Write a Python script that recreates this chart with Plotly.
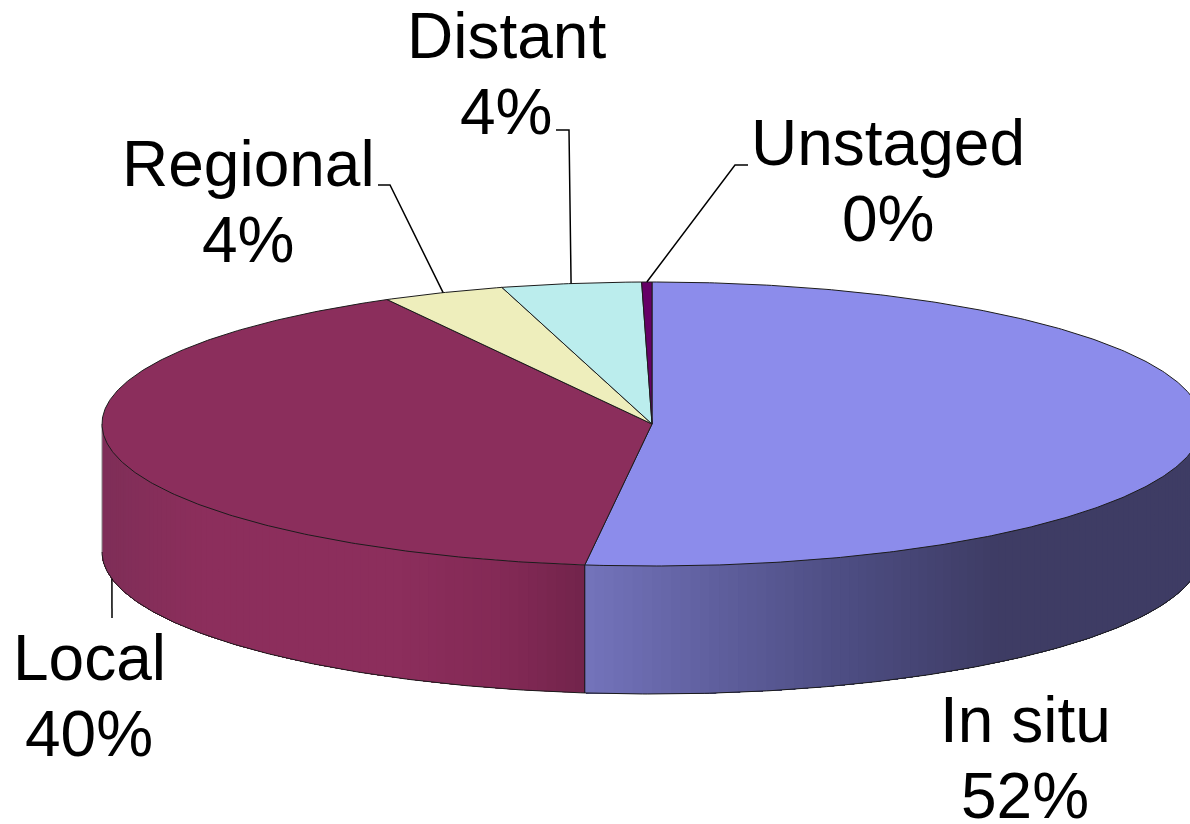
import numpy as np
import plotly.graph_objects as go

# --- data ---
categories = ["In situ", "Local", "Regional", "Distant", "Unstaged"]
values = [51.95, 40.05, 3.6, 4.1, 0.3]
shown_pct = [52, 40, 4, 4, 0]
top_colors = ["#8C8CEB", "#8B2E5C", "#EEEEBC", "#BBEDED", "#660066"]

# --- style / layout ---
W, H = 1190, 824
CX, CY, RX, RY, DEPTH = 652, 424, 550, 142, 128
EDGE = "#1c1c1c"
FONT = "Liberation Sans, Arial, sans-serif"
FS = 64
LINE_GAP = 38
label_pos = {  # label block centre, in axis units
    "In situ": (1025, 757.5),
    "Local": (89, 695.5),
    "Regional": (248, 201.5),
    "Distant": (506, 73.5),
    "Unstaged": (888, 181),
}
elbow = {  # leader elbow and end, in axis units
    "Local": [(112, 618)],
    "Regional": [(390, 185), (378, 185)],
    "Distant": [(569, 130), (556, 130)],
    "Unstaged": [(735, 165), (748, 165)],
}
side_stops = {
    "In situ": ([585, 700, 840, 1000, 1200],
                [(0x74, 0x74, 0xBC), (0x62, 0x62, 0xA2), (0x4E, 0x4E, 0x84),
                 (0x3E, 0x3C, 0x64), (0x3E, 0x3C, 0x64)]),
    "Local": ([102, 200, 400, 500, 585],
              [(0x7F, 0x2E, 0x58), (0x8C, 0x2E, 0x5C), (0x8C, 0x2E, 0x5C),
               (0x84, 0x2A, 0x56), (0x72, 0x24, 0x4C)]),
}


def px(t):
    return CX + RX * np.sin(np.radians(t))


def py(t):
    return CY - RY * np.cos(np.radians(t))


total = sum(values)
sweeps = [v / total * 360 for v in values]
ends = np.cumsum(sweeps)
starts = ends - np.array(sweeps)

fig = go.Figure()


def poly(x, y, fill=None, color=None, width=1.0):
    fig.add_trace(go.Scatter(
        x=x, y=y, mode="lines", hoverinfo="skip", showlegend=False,
        fill="toself" if fill else "none", fillcolor=fill,
        line=dict(color=color or fill or "rgba(0,0,0,0)", width=width)))


# side wall: overlapping fills, each painted over the last, shaded across the front half
for name, a, b in zip(categories, starts, ends):
    lo, hi = max(a, 90), min(b, 270)
    if lo >= hi or name not in side_stops:
        continue
    xs, cols = side_stops[name]
    grid = np.arange(lo, hi, 1.0)
    for t0 in grid:
        tt = np.linspace(t0, hi, max(int(hi - t0) + 2, 2))
        xm = px(t0 + 0.5)
        r, g, bl = [int(np.interp(xm, xs, [c[i] for c in cols])) for i in range(3)]
        col = f"rgb({r},{g},{bl})"
        poly(np.r_[px(tt), px(tt[::-1])].tolist(),
             np.r_[py(tt), py(tt[::-1]) + DEPTH].tolist(), fill=col, width=0)

# side wall outline
tf = np.linspace(90, 270, 361)
poly(px(tf).tolist(), (py(tf) + DEPTH).tolist(), color=EDGE, width=1)
poly([px(270)] * 2, [py(270), py(270) + DEPTH], color="#8a8a8a", width=1)
t_split = ends[0]
poly([px(t_split)] * 2, [py(t_split), py(t_split) + DEPTH], color="#111111", width=1)

# top face
for name, a, b, col in zip(categories, starts, ends, top_colors):
    tt = np.linspace(a, b, max(int(b - a) * 2, 3))
    poly([CX] + px(tt).tolist() + [CX], [CY] + py(tt).tolist() + [CY],
         fill=col, color=EDGE, width=1)

# leader lines, starting on the rim at each slice's mid-angle
for name, a, b in zip(categories, starts, ends):
    if name not in elbow:
        continue
    mid = (a + b) / 2
    x0, y0 = px(mid), py(mid)
    if 90 < mid < 270:
        y0 += DEPTH
    pts = elbow[name]
    poly([x0] + [p[0] for p in pts], [y0] + [p[1] for p in pts], color="#000000", width=1.5)

# labels
anns = []
for name, pct in zip(categories, shown_pct):
    lx, ly = label_pos[name]
    for text, dy in ((name, -LINE_GAP), (f"{pct}%", LINE_GAP)):
        anns.append(dict(x=lx, y=ly + dy, xref="x", yref="y", text=text, showarrow=False,
                         xanchor="center", yanchor="middle",
                         font=dict(family=FONT, size=FS, color="#000000")))

fig.update_layout(
    width=W, height=H, margin=dict(l=0, r=0, t=0, b=0), autosize=False,
    paper_bgcolor="white", plot_bgcolor="white", showlegend=False, annotations=anns,
    xaxis=dict(range=[0, W], visible=False, fixedrange=True),
    yaxis=dict(range=[H, 0], visible=False, fixedrange=True),
)
fig.write_html("out.html", config=dict(displayModeBar=False),
               post_script="document.body.style.margin='0';document.body.style.overflow='hidden';")
